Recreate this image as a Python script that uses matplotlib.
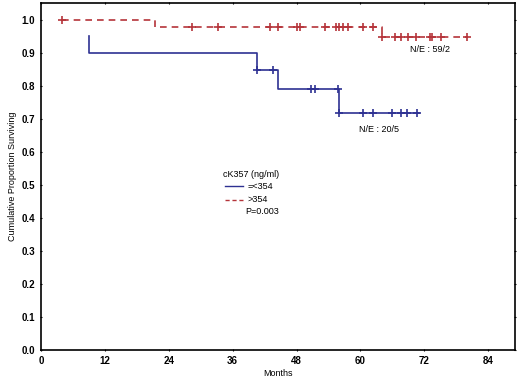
import numpy as np
import matplotlib
matplotlib.use("Agg")
import matplotlib.pyplot as plt

plt.rcParams['font.family'] = ['Liberation Sans', 'DejaVu Sans']

# low group (=<354): step curve
low_t = [9, 9, 40.5, 44.5, 56, 71]
low_s = [0.95, 0.90, 0.846, 0.79, 0.718, 0.718]
low_cens_t = [40.5, 43.5, 50.8, 51.5, 55.7, 56, 60.4, 62.3, 66, 67.7, 68.8, 70.7]
low_cens_s = [0.846, 0.846, 0.79, 0.79, 0.79, 0.718, 0.718, 0.718, 0.718, 0.718, 0.718, 0.718]

# high group (>354)
high_t = [4, 21.4, 64, 80]
high_s = [1.0, 0.979, 0.946, 0.946]
high_cens_t = [4, 28.3, 33.2, 43, 44.5, 48, 48.6, 53.3, 55.5, 56, 56.7, 57.6, 60.4, 62.3,
               64, 66.4, 67.7, 68.9, 70.5, 73, 73.5, 75.2, 80]
high_cens_s = [1.0] + [0.979] * 13 + [0.946] * 9

blue = '#2e3192'
red = '#b5343a'

fig = plt.figure(figsize=(5.2, 3.85), dpi=100)
ax = fig.add_axes([0.079, 0.091, 0.911, 0.901])

ax.step(low_t, low_s, where='post', color=blue, lw=1.2)
ax.plot(low_cens_t, low_cens_s, '+', color=blue, ms=6, mew=1.2)
ax.step(high_t, high_s, where='post', color=red, lw=1.2, ls=(0, (4, 3)))
ax.plot(high_cens_t, high_cens_s, '+', color=red, ms=6, mew=1.2)

ax.text(73, 0.908, 'N/E : 59/2', fontsize=6.5, ha='center', va='center')
ax.text(63.5, 0.667, 'N/E : 20/5', fontsize=6.5, ha='center', va='center')

# legend block
ax.text(34.2, 0.532, 'cK357 (ng/ml)', fontsize=6.5, va='center')
ax.plot([34.5, 38], [0.495, 0.495], color=blue, lw=1)
ax.text(38.8, 0.495, '=<354', fontsize=6.5, va='center')
ax.plot([34.5, 38], [0.455, 0.455], color=red, lw=1, ls=(0, (3, 2)))
ax.text(38.8, 0.455, '>354', fontsize=6.5, va='center')
ax.text(38.3, 0.42, 'P=0.003', fontsize=6.5, va='center')

ax.set_xlim(0, 89)
ax.set_ylim(0, 1.05)
ax.set_xticks(np.arange(0, 85, 12))
ax.set_yticks(np.arange(0, 1.01, 0.1))
ax.set_yticklabels(['%.1f' % v for v in np.arange(0, 1.01, 0.1)])
ax.tick_params(labelsize=7, length=2, top=True, right=True, direction='inout')
for lab in ax.get_xticklabels() + ax.get_yticklabels():
    lab.set_fontweight('bold')
ax.set_xlabel('Months', fontsize=6.5, labelpad=2)
ax.set_ylabel('Cumulative Proportion Surviving', fontsize=6.5, labelpad=3)
for sp in ax.spines.values():
    sp.set_linewidth(1.2)

fig.savefig('out.png', dpi=100)
